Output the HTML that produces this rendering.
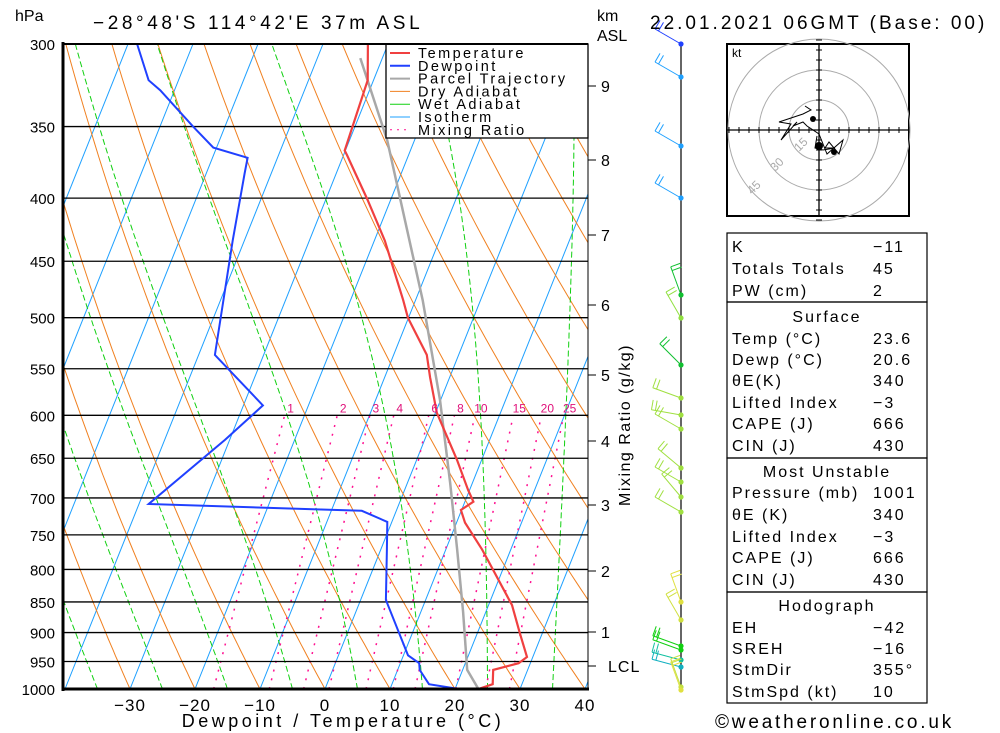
<!DOCTYPE html>
<html><head><meta charset="utf-8"><style>
html,body{margin:0;padding:0;background:#fff;}
svg{display:block;font-family:"Liberation Sans",sans-serif;}
</style></head><body>
<svg id="chart" width="1000" height="733" viewBox="0 0 1000 733" xmlns="http://www.w3.org/2000/svg">
<defs><clipPath id="plotclip"><rect x="63" y="44" width="525" height="645"/></clipPath></defs>
<g id="bg" clip-path="url(#plotclip)"></g>
<g id="plines"></g>
<g id="profiles" clip-path="url(#plotclip)"></g>
<g id="axes"></g>
<g id="wind"></g>
<g id="hodo"></g>
<g id="table"></g>
<text x="15" y="21" font-size="16">hPa</text>
<text x="93" y="29" font-size="19" letter-spacing="3.6">−28°48'S 114°42'E 37m ASL</text>
<text x="597" y="21" font-size="16">km</text>
<text x="597" y="41" font-size="16">ASL</text>
<text x="650" y="29" font-size="19" letter-spacing="3">22.01.2021 06GMT (Base: 00)</text>
<text x="343" y="727" font-size="18" text-anchor="middle" letter-spacing="3.5">Dewpoint / Temperature (°C)</text>
<text x="0" y="0" font-size="16" text-anchor="middle" letter-spacing="1.5" transform="translate(630,425) rotate(-90)">Mixing Ratio (g/kg)</text>
<text x="715" y="728" font-size="19" letter-spacing="2.8">©weatheronline.co.uk</text>
</svg>
<script>
const tempP = [300,321,366,369,401,433,484,500,536,559,597,652,690,705,716,733,770,786,855,902,942,953,965,991,1000];
const tempT = [-33.1,-30.9,-30.1,-29.5,-23.6,-18.4,-11.9,-10.1,-4.9,-3.0,0.2,6.2,9.8,11.3,9.9,11.3,15.5,17.1,23.6,26.6,29.1,28.2,24.7,25.5,23.6];
const dewP = [300,321,327,350,364,371,382,401,433,536,589,628,708,715,717,732,770,847,939,953,965,991,1000];
const dewT = [-68.6,-64.6,-62.2,-54.9,-50.5,-44.6,-44.1,-43.2,-41.8,-37.5,-27.0,-30.7,-38.5,-12.9,-5.3,-0.7,0.9,3.9,10.7,12.9,13.4,15.7,20.6];
const parcelP = [308,359,484,583,681,770,866,965,1000];
const parcelT = [-33.4,-24.2,-8.9,-0.1,6.6,11.7,16.5,20.7,23.6];
const pressureTicks = [300,350,400,450,500,550,600,650,700,750,800,850,900,950,1000];
const tempTicks = [-30,-20,-10,0,10,20,30,40];
const kmTicks = ["9","8","7","6","5","4","3","2","1","LCL"];
const kmY = [86,160,235,305,375,441,505,571,632,666];
const mixRatios = [1,2,3,4,6,8,10,15,20,25];
const NS="http://www.w3.org/2000/svg";
function Y(p){return 44+645*Math.log(p/300)/Math.log(1000/300);}
function X(T,p){return 325+6.5*T+0.4*(689-Y(p));}
function el(tag,attrs,parent){const e=document.createElementNS(NS,tag);for(const k in attrs)e.setAttribute(k,attrs[k]);parent.appendChild(e);return e;}
const bg=document.getElementById('bg');
for(let T=-110;T<=40;T+=10){
  const l=el('line',{x1:X(T,1000),y1:Y(1000),x2:X(T,300),y2:Y(300),stroke:'#1ea0ff','stroke-width':1},bg);
  
  
}
for(let th=-30;th<=170;th+=10){
  let pts=[];for(let p=1000;p>=300;p-=10){const T=(th+273.15)*Math.pow(p/1000,0.286)-273.15;pts.push(X(T,p).toFixed(1)+','+Y(p).toFixed(1));}
  const l=el('polyline',{points:pts.join(' '),fill:'none',stroke:'#f08020','stroke-width':1},bg);
  
  
}
function es(T){return 6.112*Math.exp(17.67*T/(T+243.5));}
for(let T0=-35;T0<=35;T0+=10){
  let T=T0,pts=[];
  for(let p=1000;p>=300;p-=2){
    pts.push(X(T,p).toFixed(1)+','+Y(p).toFixed(1));
    const Tk=T+273.15,e=es(T),r=0.622*e/(p-e),L=2.5e6,Rd=287,cp=1004;
    const dTdp=(1/p)*(Rd*Tk+L*r)/(cp+L*L*r*0.622/(Rd*Tk*Tk));
    T-=dTdp*2;
  }
  const l=el('polyline',{points:pts.join(' '),fill:'none',stroke:'#10d010','stroke-width':1,'stroke-dasharray':'6,3'},bg);
  
  
}
function tdFromW(w,p){const e=w*p/(622+w);const a=Math.log(e/6.112);return 243.5*a/(17.67-a);}
const axes=document.getElementById('axes');
mixRatios.forEach(w=>{
  const l=el('line',{x1:X(tdFromW(w,1000),1000),y1:Y(1000),x2:X(tdFromW(w,600),600),y2:Y(600),stroke:'#ff1090','stroke-width':1.5,'stroke-dasharray':'2,7'},bg);
  
  
  const t=el('text',{x:X(tdFromW(w,600),600)+6,y:Y(600)-3,'font-size':12,fill:'#e0107a','text-anchor':'middle'},axes);
  t.textContent=w;
  
  
});
const pl=document.getElementById('plines');
pressureTicks.forEach(p=>{
  const l=el('line',{x1:63,y1:Y(p),x2:588,y2:Y(p),stroke:'#000','stroke-width':1.3},pl);
  
  
  const t=el('text',{x:55,y:Y(p)+6,'font-size':15,'text-anchor':'end'},axes);
  t.textContent=p;
  
  
});
const prof=document.getElementById('profiles');
function profile(P,T,color,w,name){
  const pts=P.map((p,i)=>X(T[i],p).toFixed(1)+','+Y(p).toFixed(1)).join(' ');
  const l=el('polyline',{points:pts,fill:'none',stroke:color,'stroke-width':w},prof);
  
  
}
profile(parcelP,parcelT,'#a8a8a8',2.5,'parcel-trajectory-line');
profile(dewP,dewT,'#2040ff',2,'dewpoint-line');
profile(tempP,tempT,'#f04040',2.2,'temperature-line');
const leg=el('g',{},axes);


el('rect',{x:386,y:44,width:202,height:94,fill:'#fff',stroke:'#000','stroke-width':1.3},leg);
const legNames=['Temperature','Dewpoint','Parcel Trajectory','Dry Adiabat','Wet Adiabat','Isotherm','Mixing Ratio'];
const legColors=['#f04040','#2040ff','#a8a8a8','#f08020','#10d010','#1ea0ff','#ff1090'];
legNames.forEach((n,i)=>{
  const y=53+i*12.8;
  const ln=el('line',{x1:390,y1:y,x2:410,y2:y,stroke:legColors[i],'stroke-width':i<3?2:1,'stroke-dasharray':i==6?'2,5':'none'},leg);
  
  
  const t=el('text',{x:418,y:y+5,'font-size':14.5,'letter-spacing':2.4},leg);
  t.textContent=n;
  
  
});
el('line',{x1:63,y1:44,x2:588,y2:44,stroke:'#000','stroke-width':2},axes);
el('line',{x1:63,y1:42,x2:63,y2:691,stroke:'#000','stroke-width':3},axes);
el('line',{x1:62,y1:689,x2:589,y2:689,stroke:'#000','stroke-width':3},axes);
el('line',{x1:588,y1:44,x2:588,y2:689,stroke:'#000','stroke-width':1},axes);
tempTicks.forEach(T=>{
  const t=el('text',{x:325+6.5*T,y:711,'font-size':17,'text-anchor':'middle','letter-spacing':1},axes);
  t.textContent=T<0?'−'+(-T):T;
  
  
});
kmTicks.forEach((k,i)=>{
  el('line',{x1:588,y1:kmY[i],x2:596,y2:kmY[i],stroke:'#000','stroke-width':1},axes);
  const t=el('text',{x:k=='LCL'?608:601,y:kmY[i]+6,'font-size':16,'letter-spacing':1},axes);
  t.textContent=k;
  
  
});
const wind=document.getElementById('wind');
el('line',{x1:681,y1:44,x2:681,y2:689,stroke:'#000','stroke-width':1.2},wind);
const windY=[44,77,146,198,295,318,365,398,415,429,468,482,497,512,602,620,646,650,660,667,687,690];
const windDir=[300,300,300,300,340,330,315,290,280,300,310,300,320,300,340,330,290,290,285,285,340,340];
const windColor=['#2040ff','#1ea0ff','#1ea0ff','#1ea0ff','#10c030','#90e040','#10c030','#a0e040','#a0e040','#a0e040','#a0e040','#a0e040','#a0e040','#a0e040','#e0e040','#d0e040','#10d010','#10d010','#10c0a0','#10b0c0','#c0e040','#e0e040'];
windY.forEach((y,i)=>{
  const a=windDir[i]*Math.PI/180,L=30;
  const x2=681+L*Math.sin(a),y2=y-L*Math.cos(a);
  const g=el('g',{},wind);
  
  
  el('line',{x1:681,y1:y,x2:x2,y2:y2,stroke:windColor[i],'stroke-width':1},g);
  for(let k=0;k<2;k++){const bx=x2-k*4*Math.sin(a),by=y2+k*4*Math.cos(a);
    el('line',{x1:bx,y1:by,x2:bx+10*Math.cos(a),y2:by+10*Math.sin(a),stroke:windColor[i],'stroke-width':1},g);}
  el('circle',{cx:681,cy:y,r:2.6,fill:windColor[i]},g);
});
const hodo=document.getElementById('hodo');
el('rect',{x:727,y:44,width:182,height:172,fill:'#fff',stroke:'#000','stroke-width':2},hodo);
const hc=[819,130];
[30,60,91].forEach(r=>el('circle',{cx:hc[0],cy:hc[1],r:r,fill:'none',stroke:'#aaa','stroke-width':1},hodo));
el('line',{x1:727,y1:130,x2:909,y2:130,stroke:'#000','stroke-width':1.3},hodo);
el('line',{x1:819,y1:44,x2:819,y2:216,stroke:'#000','stroke-width':1.3},hodo);
for(let d=-90;d<=90;d+=10){
  el('line',{x1:hc[0]+d,y1:127,x2:hc[0]+d,y2:133,stroke:'#000'},hodo);
  el('line',{x1:816,y1:hc[1]+d,x2:822,y2:hc[1]+d,stroke:'#000'},hodo);
}
[['15',799,152],['30',775,172],['45',752,195]].forEach(a=>{
  const t=el('text',{x:a[1],y:a[2],'font-size':12,fill:'#aaa',transform:`rotate(-45 ${a[1]} ${a[2]})`},hodo);
  t.textContent=a[0];
  
  
});
const kt=el('text',{x:732,y:57,'font-size':12},hodo);kt.textContent='kt';


const hodoU=[-1,-2,2,8,3,5,10,12,4,0,-6,-8,-13,-11,-19,-14,-20,-8,-4,-7];
const hodoV=[-3,-9,-10,-9,-9,-6,-12,-5,-12,-2,2,4,2,4,-5,3,4,8,10,12];
const hp=hodoU.map((u,i)=>(hc[0]+u*2).toFixed(1)+','+(hc[1]-hodoV[i]*2).toFixed(1)).join(' ');
const hl=el('polyline',{points:hp,fill:'none',stroke:'#000','stroke-width':1},hodo);


el('circle',{cx:813,cy:119,r:3,fill:'#000'},hodo);
el('circle',{cx:834,cy:152,r:3,fill:'#000'},hodo);
el('circle',{cx:819,cy:146,r:4,fill:'#000'},hodo);
const tb=document.getElementById('table');
[[233,302],[302,458],[458,592],[592,703]].forEach(b=>el('rect',{x:727,y:b[0],width:200,height:b[1]-b[0],fill:'none',stroke:'#000','stroke-width':1.2},tb));
const rows=[['K','−11',246],['Totals Totals','45',268],['PW (cm)','2',290],['#Surface','',316],['Temp (°C)','23.6',338],['Dewp (°C)','20.6',359],['θE(K)','340',380],['Lifted Index','−3',402],['CAPE (J)','666',423],['CIN (J)','430',445],['#Most Unstable','',471],['Pressure (mb)','1001',492],['θE (K)','340',514],['Lifted Index','−3',536],['CAPE (J)','666',557],['CIN (J)','430',579],['#Hodograph','',605],['EH','−42',627],['SREH','−16',648],['StmDir','355°',669],['StmSpd (kt)','10',691]];
rows.forEach(r=>{
  const hdr=r[0][0]=='#';
  const t=el('text',{x:hdr?827:732,y:r[2]+6,'font-size':16,'letter-spacing':2,'text-anchor':hdr?'middle':'start'},tb);
  t.textContent=hdr?r[0].slice(1):r[0];
  
  
  if(!hdr){const v=el('text',{x:873,y:r[2]+6,'font-size':16,'letter-spacing':2},tb);v.textContent=r[1];
    
    }
});
</script>
</body></html>
